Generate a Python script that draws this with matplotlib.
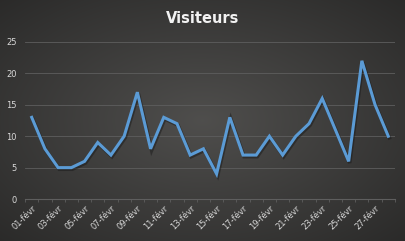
import matplotlib.pyplot as plt
import numpy as np

days = [f"{d:02d}-févr" for d in range(1, 29)]
visitors = [13, 8, 5, 5, 6, 9, 7, 10, 17, 8, 13, 12, 7, 8, 4,
            13, 7, 7, 10, 7, 10, 12, 16, 11, 6, 22, 15, 10]
y_ticks = [0, 5, 10, 15, 20, 25]

text_color = "#d9d9d9"
line_color = "#5b9bd5"

fig = plt.figure(figsize=(4.05, 2.41), dpi=100)

# radial dark background, lighter in the middle
bg = fig.add_axes([0, 0, 1, 1], zorder=0)
yy, xx = np.mgrid[-1:1:241j, -1:1:405j]
r = np.sqrt(xx ** 2 + yy ** 2)
shade = np.clip(0.31 - 0.10 * r, 0, 1)
rgb = np.dstack([shade, shade * 0.99, shade * 0.97])
bg.imshow(rgb, aspect="auto", extent=[0, 1, 0, 1])
bg.axis("off")

ax = fig.add_axes([0.062, 0.174, 0.913, 0.652], zorder=1)
ax.patch.set_alpha(0)
x = np.arange(len(visitors))
ax.plot(x + 0.08, np.array(visitors) - 0.25, color="#1a1a1a", lw=2.6, alpha=0.5,
        solid_joinstyle="miter")
ax.plot(x, visitors, color=line_color, lw=2.2, solid_joinstyle="miter")

ax.set_xlim(-0.5, len(visitors) - 0.5)
ax.set_ylim(0, 25)
ax.set_yticks(y_ticks)
ax.set_yticklabels([str(v) for v in y_ticks], color=text_color, fontsize=6)
ax.set_xticks(x[::2])
ax.set_xticklabels(days[::2], rotation=45, ha="right", rotation_mode="anchor",
                   color=text_color, fontsize=6)
ax.set_xticks(np.arange(-0.5, len(visitors), 1), minor=True)
ax.tick_params(axis="y", length=0, pad=6)
ax.tick_params(axis="x", which="major", length=0, pad=3)
ax.tick_params(axis="x", which="minor", length=2, color="#5e5e5e")
ax.grid(axis="y", color="#5e5e5e", lw=0.6)
for side in ["top", "right", "left"]:
    ax.spines[side].set_visible(False)
ax.spines["bottom"].set_color("#5e5e5e")
ax.spines["bottom"].set_linewidth(0.8)

fig.text(0.5, 0.925, "Visiteurs", ha="center", va="center", color="#f2f2f2",
         fontsize=10.5, fontweight="bold")

fig.savefig("out.png", dpi=100)
